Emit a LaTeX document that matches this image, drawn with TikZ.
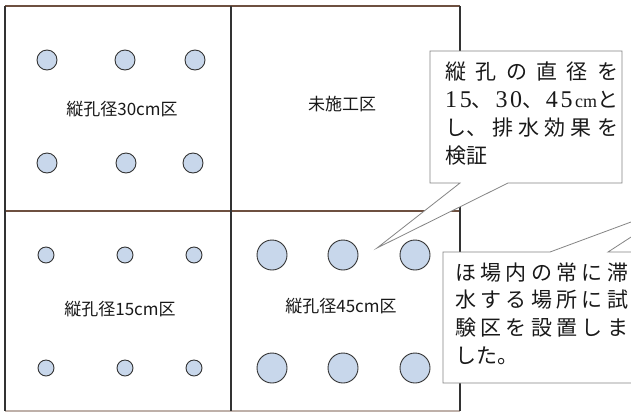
\documentclass[tikz,border=0pt]{standalone}
\usepackage{fontspec}
\setmainfont{Noto Sans CJK JP}
\newfontfamily\serifdig{Liberation Serif}
\definecolor{holefill}{HTML}{C8D7EB}
\definecolor{gridh}{HTML}{6E5040}
\definecolor{gridv}{HTML}{333333}
\definecolor{callline}{HTML}{858585}
\begin{document}
\begin{tikzpicture}[x=1pt,y=-1pt,
  hole/.style={circle,draw=black!80,fill=holefill,line width=0.9pt,inner sep=0pt},
  smallhole/.style={hole,minimum size=16pt},
  midhole/.style={hole,minimum size=20pt},
  bighole/.style={hole,minimum size=30pt},
  gridline/.style={line width=1.2pt},
  arealabel/.style={inner sep=0pt,font=\fontsize{17}{17}\selectfont,text=black!90},
  callbox/.style={draw=callline,fill=white,line width=0.8pt,line join=miter},
  calltext/.style={anchor=base west,inner sep=0pt,font=\fontsize{21}{21}\selectfont,text=black!90}]
\useasboundingbox (0,0) rectangle (631,413);
\clip (0,0) rectangle (631,413);
\fill[white] (0,0) rectangle (631,413);

% grid
\coordinate (tl) at (5,6);
\coordinate (tm) at (231,6);
\coordinate (tr) at (460,6);
\coordinate (ml) at (5,211);
\coordinate (mr) at (460,211);
\coordinate (bl) at (5,411);
\coordinate (bm) at (231,411);
\coordinate (br) at (460,411);
\draw[gridline,gridh] (tl) -- (tr);
\draw[gridline,gridh] (ml) -- (mr);
\draw[gridline,gridh!45] (bl) -- (br);
\draw[gridline,gridv] (tl) -- (bl);
\draw[gridline,gridv] (tm) -- (bm);
\draw[gridline,gridv] (tr) -- (br);

% 30 cm area
\node[midhole] (a1) at (47,60) {};
\node[midhole] (a2) at (125,60) {};
\node[midhole] (a3) at (195,60) {};
\node[midhole] (a4) at (47,163) {};
\node[midhole] (a5) at (126,163) {};
\node[midhole] (a6) at (193,163) {};
\node[arealabel] (la) at (122,109) {縦孔径30cm区};

% untreated
\node[arealabel] (lb) at (342,104) {未施工区};

% 15 cm area
\node[smallhole] (c1) at (46,255) {};
\node[smallhole] (c2) at (125,255) {};
\node[smallhole] (c3) at (194,255) {};
\node[smallhole] (c4) at (46,368) {};
\node[smallhole] (c5) at (125,368) {};
\node[smallhole] (c6) at (194,368) {};
\node[arealabel] (lc) at (120,309) {縦孔径15cm区};

% 45 cm area
\node[bighole] (d1) at (272,255) {};
\node[bighole] (d2) at (343,255) {};
\node[bighole] (d3) at (415,255) {};
\node[bighole] (d4) at (272,368) {};
\node[bighole] (d5) at (343,368) {};
\node[bighole] (d6) at (415,368) {};
\node[arealabel] (ld) at (341,306) {縦孔径45cm区};

% callout 1
\draw[callbox] (430,51) -- (622,51) -- (622,183) -- (508,183) -- (377,248) -- (460,183) -- (430,183) -- cycle;
\node[calltext] (t1) at (445,79) {\makebox[173pt][s]{縦\hfill 孔\hfill の\hfill 直\hfill 径\hfill を}};
\node[calltext] (t2) at (445,107) {\makebox[173pt][s]{{\serifdig\fontsize{24}{24}\selectfont 1}\hfill{\serifdig\fontsize{24}{24}\selectfont 5}、\hfill{\serifdig\fontsize{24}{24}\selectfont 3}\hfill{\serifdig\fontsize{24}{24}\selectfont 0}、\hfill{\serifdig\fontsize{24}{24}\selectfont 4}\hfill{\serifdig\fontsize{24}{24}\selectfont 5}\hfill{\serifdig\fontsize{18}{18}\selectfont cm}と}};
\node[calltext] (t3) at (445,135) {\makebox[173pt][s]{し、\hfill 排\hfill 水\hfill 効\hfill 果\hfill を}};
\node[calltext] (t4) at (445,163) {検証};

% callout 2
\draw[callbox] (443,252) -- (550,252) -- (685,202) -- (608,252) -- (700,252) -- (700,383) -- (443,383) -- cycle;
\node[calltext] (u1) at (455,280) {\makebox[173pt][s]{ほ\hfill 場\hfill 内\hfill の\hfill 常\hfill に\hfill 滞}};
\node[calltext] (u2) at (455,307) {\makebox[173pt][s]{水\hfill す\hfill る\hfill 場\hfill 所\hfill に\hfill 試}};
\node[calltext] (u3) at (455,335) {\makebox[173pt][s]{験\hfill 区\hfill を\hfill 設\hfill 置\hfill し\hfill ま}};
\node[calltext] (u4) at (455,363) {した。};
\end{tikzpicture}
\end{document}
